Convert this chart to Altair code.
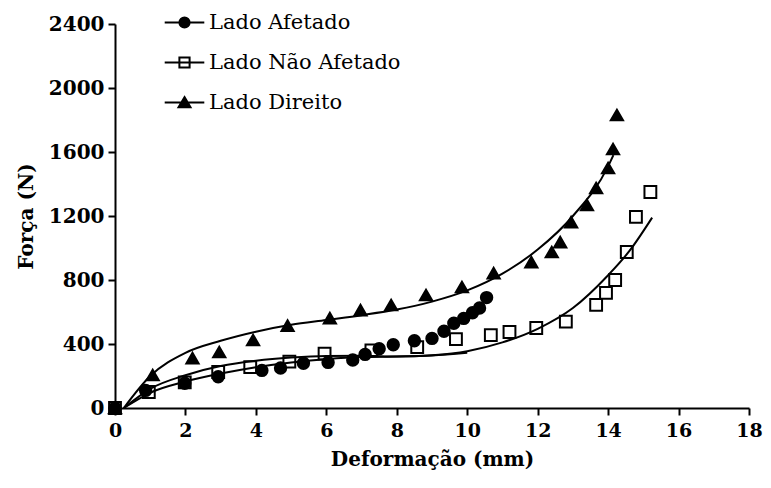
import altair as alt
import pandas as pd

series_names = ["Lado Afetado", "Lado Não Afetado", "Lado Direito"]

# Measured points
afetado_x = [0, 0.87, 1.98, 2.93, 4.17, 4.7, 5.35, 6.05, 6.75, 7.1, 7.5, 7.9, 8.5, 9.0, 9.34, 9.62, 9.9, 10.15, 10.35, 10.55]
afetado_y = [0, 110, 155, 195, 235, 250, 280, 285, 300, 335, 370, 395, 420, 435, 480, 530, 560, 595, 625, 690]

nao_afetado_x = [0, 0.96, 1.98, 2.93, 3.84, 4.95, 5.95, 7.28, 8.58, 9.68, 10.67, 11.2, 11.96, 12.8, 13.66, 13.94, 14.2, 14.53, 14.79, 15.2]
nao_afetado_y = [0, 100, 160, 225, 255, 290, 340, 360, 380, 430, 455, 475, 500, 540, 645, 720, 800, 975, 1195, 1350]

direito_x = [0, 1.07, 2.2, 2.96, 3.92, 4.9, 6.1, 6.97, 7.84, 8.83, 9.85, 10.75, 11.82, 12.4, 12.64, 12.95, 13.4, 13.66, 14.0, 14.14, 14.25]
direito_y = [0, 206, 312, 350, 425, 515, 562, 612, 644, 706, 756, 843, 912, 975, 1037, 1162, 1269, 1375, 1500, 1619, 1831]

# Fitted curves
curve_afetado_x = [0.25, 1, 2, 3, 4, 5, 6, 7, 8, 9, 10]
curve_afetado_y = [0, 95, 165, 215, 255, 285, 305, 318, 322, 328, 345]

curve_nao_afetado_x = [0.25, 1, 2, 3, 4, 5, 6, 7, 8, 9, 10, 11, 12, 13, 14, 14.6, 15.25]
curve_nao_afetado_y = [0, 120, 205, 262, 295, 315, 325, 326, 322, 330, 355, 410, 495, 625, 830, 980, 1190]

curve_direito_x = [0.25, 1, 2, 3, 4, 5, 6, 7, 8, 9, 10, 11, 12, 13, 14, 14.15]
curve_direito_y = [0, 200, 345, 420, 477, 520, 550, 580, 615, 665, 735, 840, 990, 1200, 1510, 1580]

x_ticks = [0, 2, 4, 6, 8, 10, 12, 14, 16, 18]
y_ticks = [0, 400, 800, 1200, 1600, 2000, 2400]

pts_rows = []
for name, xs, ys in zip(series_names, [afetado_x, nao_afetado_x, direito_x], [afetado_y, nao_afetado_y, direito_y]):
    for a, b in zip(xs, ys):
        pts_rows.append({"x": a, "F": b, "series": name})
pts_df = pd.DataFrame(pts_rows)

curve_rows = []
for name, xs, ys in zip(series_names, [curve_afetado_x, curve_nao_afetado_x, curve_direito_x], [curve_afetado_y, curve_nao_afetado_y, curve_direito_y]):
    for i, (a, b) in enumerate(zip(xs, ys)):
        curve_rows.append({"x": a, "F": b, "series": name, "order": i})
curve_df = pd.DataFrame(curve_rows)

FONT = "DejaVu Serif"

xscale = alt.Scale(domain=[0, 18], nice=False)
yscale = alt.Scale(domain=[0, 2400], nice=False)

xaxis = alt.Axis(values=x_ticks, title="Deformação (mm)", grid=False, tickSize=7, tickWidth=2,
                 domainWidth=2, domainColor="black", tickColor="black", labelColor="black",
                 titleColor="black", labelFont=FONT, labelFontWeight="bold", labelFontSize=19,
                 titleFont=FONT, titleFontWeight="bold", titleFontSize=20, labelPadding=6,
                 titlePadding=9, labelFlush=False, format="d")
yaxis = alt.Axis(values=y_ticks, title="Força (N)", grid=False, tickSize=7, tickWidth=2,
                 domainWidth=2, domainColor="black", tickColor="black", labelColor="black",
                 titleColor="black", labelFont=FONT, labelFontWeight="bold", labelFontSize=20,
                 titleFont=FONT, titleFontWeight="bold", titleFontSize=20, labelPadding=4,
                 titlePadding=12, labelFlush=False, format="d")

curves = alt.Chart(curve_df).mark_line(color="black", strokeWidth=2, interpolate="monotone").encode(
    x=alt.X("x:Q", scale=xscale, axis=xaxis),
    y=alt.Y("F:Q", scale=yscale, axis=yaxis),
    detail="series:N",
    order="order:Q",
)

pts = alt.Chart(pts_df).mark_point(stroke="black", strokeWidth=2, opacity=1).encode(
    x=alt.X("x:Q", scale=xscale),
    y=alt.Y("F:Q", scale=yscale),
    shape=alt.Shape("series:N", scale=alt.Scale(domain=series_names, range=["circle", "square", "triangle-up"]), legend=None),
    fill=alt.Fill("series:N", scale=alt.Scale(domain=series_names, range=["black", "transparent", "black"]), legend=None),
    size=alt.Size("series:N", scale=alt.Scale(domain=series_names, range=[130, 150, 150]), legend=None),
)

leg_paths = [
    "M-3.3,0L3.3,0M0.85,0A0.85,0.85,0,1,1,-0.85,0A0.85,0.85,0,1,1,0.85,0Z",
    "M-3.3,0L3.3,0M-0.85,-0.85L0.85,-0.85L0.85,0.85L-0.85,0.85Z",
    "M-3.3,0L3.3,0M0,-0.9L1,0.8L-1,0.8Z",
]
legend = alt.Legend(title=None, orient="none", legendX=59, legendY=-12, padding=0,
                    symbolSize=144, symbolStrokeWidth=2, symbolStrokeColor="black", symbolOpacity=1,
                    labelFont=FONT, labelFontSize=21, labelColor="black", labelOffset=14,
                    rowPadding=18, labelLimit=400)

leg_layer = alt.Chart(pts_df).transform_filter("false").mark_point(strokeWidth=2).encode(
    x=alt.X("x:Q", scale=xscale),
    y=alt.Y("F:Q", scale=yscale),
    shape=alt.Shape("series:N", scale=alt.Scale(domain=series_names, range=leg_paths), legend=legend),
    fill=alt.Fill("series:N", scale=alt.Scale(domain=series_names, range=["black", "transparent", "black"]), legend=legend),
    stroke=alt.Stroke("series:N", scale=alt.Scale(domain=series_names, range=["black", "black", "black"]), legend=legend),
)

chart = alt.layer(curves, pts, leg_layer).resolve_scale(
    shape="independent", fill="independent", stroke="independent"
).properties(
    width=634, height=384,
    padding={"left": 107, "top": 16, "right": 14, "bottom": 72},
    autosize=alt.AutoSizeParams(type="none"),
).configure_view(stroke=None)

chart.save("out.html", embed_options={"renderer": "svg", "actions": False})
